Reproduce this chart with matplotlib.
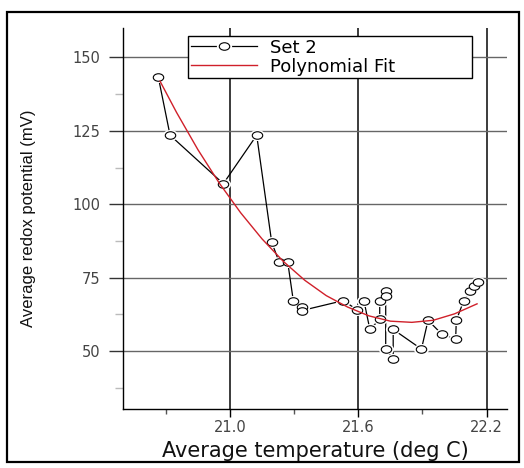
import matplotlib
matplotlib.use("Agg")
import matplotlib.pyplot as plt
import numpy as np
from matplotlib.path import Path
from matplotlib.patches import Rectangle
from matplotlib.legend_handler import HandlerTuple
from matplotlib.lines import Line2D
from matplotlib.ticker import FixedLocator

# ---- data ----
set2_temp = [20.665, 20.72, 20.969, 21.125, 21.195, 21.23, 21.27, 21.296, 21.335, 21.335,
             21.53, 21.596, 21.626, 21.654, 21.70, 21.70, 21.728, 21.728, 21.728, 21.763,
             21.763, 21.895, 21.926, 21.99, 22.055, 22.058, 22.093, 22.12, 22.14, 22.16]
set2_redox = [143.3, 123.5, 107.0, 123.5, 87.1, 80.3, 80.3, 67.2, 65.0, 63.8,
              67.2, 64.0, 67.2, 57.4, 60.8, 67.2, 70.6, 68.7, 50.7, 47.3,
              57.4, 50.7, 60.5, 55.8, 54.1, 60.5, 67.2, 70.4, 72.3, 73.7]

fit_temp = [20.673, 20.75, 20.85, 20.95, 21.05, 21.15, 21.25, 21.35, 21.45, 21.55,
            21.65, 21.75, 21.85, 21.95, 22.05, 22.155]
fit_redox = [141.9, 131.3, 118.6, 107.2, 97.1, 88.2, 80.5, 74.1, 68.9, 65.0,
             62.0, 60.2, 59.8, 60.5, 62.7, 66.1]

x_major = [21.0, 21.6, 22.2]
x_minor = [20.7, 21.3, 21.9]
x_labels = ["21.0", "21.6", "22.2"]
y_major = [50, 75, 100, 125, 150]
y_minor = [37.5, 62.5, 87.5, 112.5, 137.5]

series_label = "Set 2"
fit_label = "Polynomial Fit"
xlabel = "Average temperature (deg C)"
ylabel = "Average redox potential (mV)"

# ---- figure ----
fig = plt.figure(figsize=(5.24, 4.68), dpi=100)
ax = fig.add_axes([123/524, 1-409/468, (507-123)/524, (409-28)/468])

# ellipse marker (slightly wider than tall)
circ = Path.unit_circle()
ell = Path(circ.vertices * np.array([1.0, 0.72]), circ.codes)

ax.plot(set2_temp, set2_redox, color="black", lw=0.9, zorder=3)
ax.plot(set2_temp, set2_redox, ls="none", marker=ell, ms=11, mfc="white", mec="none", zorder=4)
ax.plot(set2_temp, set2_redox, ls="none", marker=ell, ms=7.5, mfc="white", mec="black",
        mew=0.8, zorder=5)
ax.plot(fit_temp, fit_redox, color="#d0202a", lw=1.0, zorder=6)

ax.set_xlim(20.5, 22.295)
ax.set_ylim(30.3, 160)

ax.xaxis.set_major_locator(FixedLocator(x_major))
ax.xaxis.set_minor_locator(FixedLocator(x_minor))
ax.set_xticklabels(x_labels)
ax.yaxis.set_major_locator(FixedLocator(y_major))
ax.yaxis.set_minor_locator(FixedLocator(y_minor))

ax.grid(axis="x", which="major", color="#1a1a1a", lw=1.2, zorder=1)
ax.grid(axis="y", which="major", color="#666666", lw=1.0, zorder=1)
ax.set_axisbelow(True)

for s in ["top", "right"]:
    ax.spines[s].set_visible(False)
for s in ["left", "bottom"]:
    ax.spines[s].set_color("black")
    ax.spines[s].set_linewidth(1.0)

ax.tick_params(axis="x", which="major", length=6, width=1.0, color="black", pad=2,
               labelsize=10.5, labelcolor="#444444")
ax.tick_params(axis="x", which="minor", length=3.5, width=1.0, color="#555555")
ax.tick_params(axis="y", which="major", length=10, width=1.0, color="#333333", pad=6,
               labelsize=10.5, labelcolor="#444444")
ax.tick_params(axis="y", which="minor", length=6, width=1.0, color="#bbbbbb")

ax.set_xlabel(xlabel, fontsize=15, color="#111111", labelpad=4, family="DejaVu Sans")
ax.set_ylabel(ylabel, fontsize=12, color="#111111", family="Liberation Sans")
ax.yaxis.set_label_coords((36-123)/384, 0.5)

# legend
h_line = Line2D([], [], color="black", lw=0.9)
h_halo = Line2D([], [], ls="none", marker=ell, ms=11, mfc="white", mec="none")
h_mark = Line2D([], [], ls="none", marker=ell, ms=7.5, mfc="white", mec="black", mew=0.8)
h_fit = Line2D([], [], color="#d0202a", lw=1.0)
leg = ax.legend([(h_line, h_halo, h_mark), h_fit], [series_label, fit_label],
                handler_map={tuple: HandlerTuple(ndivide=1, pad=0)},
                loc="upper left", bbox_to_anchor=(0.169, 0.979, 0.740, 0), mode="expand",
                borderaxespad=0, labelspacing=0.05, borderpad=0.15,
                handlelength=3.7, handletextpad=0.7, fancybox=False, framealpha=1,
                edgecolor="black", prop={"family": "DejaVu Sans", "size": 13})
leg.get_frame().set_linewidth(1.0)
leg.set_zorder(10)

# outer border
fig.patches.append(Rectangle((7/524, 1-462/468), (519-7)/524, (462-12)/468,
                             transform=fig.transFigure, fill=False, edgecolor="black",
                             lw=1.6))

fig.savefig("out.png", dpi=100)
